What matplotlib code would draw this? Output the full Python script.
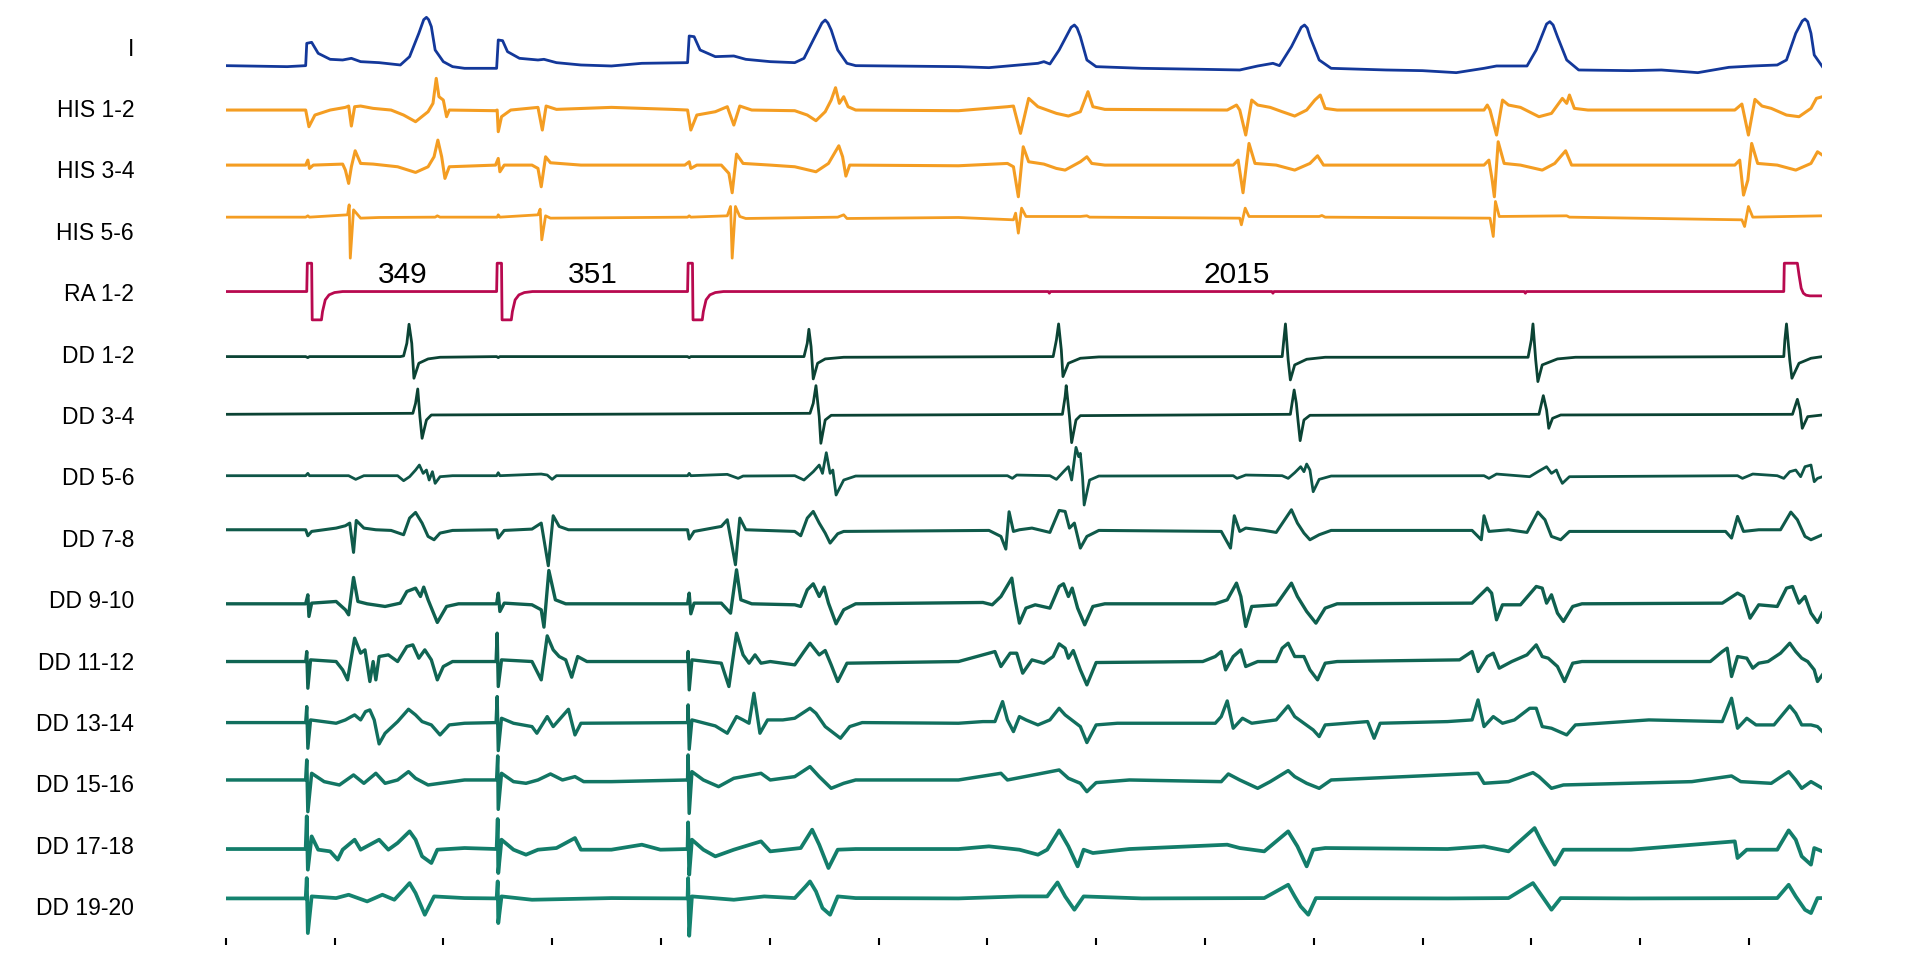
import matplotlib
matplotlib.use("Agg")
import matplotlib.pyplot as plt

plt.rcParams['font.family'] = ['Liberation Sans', 'DejaVu Sans']

# channel names, top to bottom
channels = ["I", "HIS 1-2", "HIS 3-4", "HIS 5-6", "RA 1-2",
            "DD 1-2", "DD 3-4", "DD 5-6", "DD 7-8", "DD 9-10",
            "DD 11-12", "DD 13-14", "DD 15-16", "DD 17-18", "DD 19-20"]

colors = ["#13389a", "#f49d22", "#f49d22", "#f49d22", "#b8094f",
          "#0b4334", "#0b4334", "#0e5547", "#0f5a4a", "#0f604f",
          "#106553", "#116f5e", "#127664", "#137d6a", "#14836f"]

# DC offset of each trace relative to its label row (a.u.)
offsets = [-57, -6, 13, 41, 2, -9, 2, 2, 24, -14, -3, -2, 10, -13, 23]

# RA pacing stimuli (ms)
stim_times = [150, 499, 850, 2865]

# traces: time (ms) / amplitude (a.u.)
t_I = [0, 113, 147, 149, 158, 170, 192, 215, 231, 248, 282, 321, 338, 355, 364, 369, 373, 378, 385, 400, 417, 439,
       498, 501, 509, 518, 540, 574, 585, 608, 653, 709, 765, 849, 852, 861, 872, 900, 934, 956, 1001, 1046,
       1063, 1080, 1096, 1102, 1107, 1113, 1125, 1142, 1158, 1347, 1403, 1493, 1504, 1515, 1532, 1554, 1560, 1565,
       1571, 1583, 1600, 1684, 1796, 1864, 1897, 1925, 1937, 1959, 1977, 1983, 1988, 1993, 2010, 2032, 2133, 2200,
       2262, 2313, 2336, 2392, 2409, 2428, 2434, 2440, 2448, 2465, 2487, 2583, 2639, 2706, 2763, 2807, 2852, 2869,
       2886, 2898, 2903, 2908, 2914, 2920, 2935]
v_I = [0, -3, 0, 67, 70, 37, 19, 17, 22, 12, 9, 2, 27, 97, 138, 145, 138, 117, 47, 12, -3, -8,
       -8, 77, 75, 42, 22, 17, 19, 9, 2, -1, 7, 9, 89, 87, 47, 27, 29, 19, 12, 9,
       22, 77, 128, 137, 128, 107, 47, 7, 0, -3, -6, 7, 12, 5, 47, 115, 122, 113,
       87, 17, -3, -8, -11, -13, -1, 7, 0, 57, 115, 122, 113, 87, 17, -8, -13, -15,
       -21, -8, -1, -1, 47, 125, 132, 122, 87, 17, -13, -15, -13, -21, -5, -1, 2, 17,
       97, 134, 140, 132, 97, 32, -3]

t_his12 = [0, 147, 153, 164, 192, 220, 226, 231, 237, 248, 271, 304, 327, 349, 372, 381, 387, 392, 400, 406,
           411, 496, 499, 501, 507, 524, 574, 582, 589, 608, 709, 821, 849, 855, 866, 900, 922, 934, 945, 967,
           1046, 1069, 1085, 1102, 1113, 1121, 1128, 1136, 1144, 1158, 1347, 1437, 1448, 1461, 1471, 1476, 1493,
           1527, 1549, 1571, 1585, 1594, 1616, 1841, 1858, 1864, 1875, 1886, 1897, 1920, 1942, 1965, 1987, 2002,
           2012, 2021, 2043, 2313, 2319, 2324, 2336, 2347, 2358, 2380, 2414, 2437, 2457, 2465, 2470, 2479, 2504,
           2774, 2787, 2799, 2811, 2824, 2841, 2869, 2892, 2914, 2924, 2935]
v_his12 = [0, 0, -50, -15, 0, 8, 12, -48, 10, 12, 5, 0, -15, -35, -5, 20, 95, 40, 30, -20,
           0, -2, 0, -65, -20, 0, 8, -60, 12, 2, 8, 2, 0, -60, -15, -5, 10, -45, 12, 0,
           -2, -15, -32, -5, 30, 67, 20, 40, 10, 0, -2, 10, 12, -70, 0, 35, 10,
           -10, -18, -5, 55, 10, 2, 0, 15, 0, -75, 30, 15, 8, -5, -18, 0, 30,
           45, 5, 0, 0, 15, 0, -75, 30, 15, 8, -20, -10, 35, 20, 45, 5, 0,
           0, 18, -75, 32, 12, 5, -15, -20, 5, 35, 40]

t_his34 = [0, 147, 151, 154, 161, 215, 220, 226, 231, 238, 248, 271, 316, 349, 372, 383, 390, 397, 403, 411,
           496, 501, 504, 512, 563, 574, 580, 588, 597, 653, 844, 852, 855, 866, 911, 925, 931, 939, 951, 1001,
           1046, 1085, 1108, 1127, 1134, 1140, 1147, 1347, 1437, 1448, 1457, 1466, 1476, 1504, 1527, 1543, 1571,
           1583, 1592, 1616, 1852, 1861, 1870, 1881, 1892, 1931, 1965, 1993, 2007, 2018, 2313, 2322, 2328, 2332,
           2339, 2350, 2380, 2420, 2443, 2463, 2474, 2774, 2783, 2790, 2798, 2805, 2816, 2852, 2886, 2914, 2926, 2935]
v_his34 = [0, 0, 15, -10, 0, 3, -15, -55, -5, 43, 5, 3, -5, -22, -5, 25, 75, 25, -40, -5,
           0, 20, -20, 0, 0, -10, -65, 25, 7, 0, 0, 10, -10, 0, 0, -25, -83, 33, 5, 0,
           -5, -20, 5, 58, 25, -33, 0, -2, 5, -5, -95, 55, 10, 3, -10, -15, 10,
           25, 5, 0, 0, 15, -83, 65, 5, 0, -15, 5, 28, 0, 0, 15, -45, -95,
           70, 5, 0, -15, 5, 43, 0, 0, 15, -90, -45, 65, 5, 0, -15, 5, 40, 30]

t_his56 = [0, 147, 151, 154, 224, 227, 229, 235, 248, 282, 385, 389, 394, 499, 501, 504, 574, 578, 581, 588,
           597, 849, 852, 855, 922, 928, 931, 937, 945, 956, 1125, 1136, 1142, 1347, 1448, 1452, 1457, 1463,
           1471, 1571, 1583, 1588, 1864, 1867, 1874, 1881, 2010, 2015, 2021, 2324, 2330, 2334, 2341, 2465, 2470,
           2787, 2792, 2799, 2807, 2935]
v_his56 = [0, 0, 4, 0, 7, 37, -123, 22, -3, -1, 0, 4, 0, 0, 7, 0, 7, 24, -68, 4,
           -3, 0, 4, 0, 4, 32, -123, 32, 2, -4, 0, 7, -4, -1, -8, 12, -48, 27,
           2, 2, 4, 0, -3, -23, 27, 2, 2, 5, 0, -3, -58, 47, 2, 4, 0,
           -8, -28, 32, 0, 4]

t_ra12 = [0, 149, 150, 158, 159, 176, 178, 183, 190, 200, 215,
          498, 499, 507, 508, 525, 527, 532, 539, 549, 564,
          849, 850, 858, 859, 876, 878, 883, 890, 900, 915,
          1512, 1514, 1516, 1923, 1925, 1927, 2387, 2389, 2391,
          2864, 2865, 2889, 2892, 2896, 2900, 2905, 2912, 2935]
v_ra12 = [0, 0, 85, 85, -85, -85, -60, -25, -10, -3, 0,
          0, 85, 85, -85, -85, -60, -25, -10, -3, 0,
          0, 85, 85, -85, -85, -60, -25, -10, -3, 0,
          0, -5, 0, 0, -5, 0, 0, -5, 0,
          0, 85, 85, 50, 10, -5, -11, -13, -13]

t_dd12 = [0, 147, 151, 154, 321, 327, 333, 337, 342, 346, 355, 372, 394, 498, 501, 504, 849, 852, 855,
          1063, 1069, 1072, 1076, 1080, 1088, 1102, 1136, 1521, 1527, 1531, 1536, 1539, 1549, 1571, 1605,
          1942, 1945, 1948, 1953, 1957, 1965, 1987, 2021, 2394, 2400, 2403, 2408, 2412, 2420, 2448, 2481,
          2864, 2866, 2869, 2875, 2879, 2892, 2914, 2935]
v_dd12 = [0, 0, -3, 0, 0, 2, 40, 97, 40, -65, -20, -7, -2, 0, -3, 0, 0, -3, 0,
          0, 40, 82, 30, -67, -20, -7, -2, 0, 50, 98, 20, -60, -20, -5, -1,
          0, 50, 98, -10, -70, -25, -8, -2, -2, 50, 98, -10, -75, -25, -7, -2,
          0, 50, 98, -10, -65, -20, -5, 0]

t_dd34 = [0, 344, 349, 353, 357, 361, 369, 378, 1074, 1080, 1085, 1091, 1094, 1102, 1113,
          1538, 1543, 1545, 1551, 1555, 1563, 1571, 1957, 1964, 1968, 1971, 1975, 1982, 1993,
          2414, 2422, 2428, 2432, 2439, 2454, 2880, 2889, 2894, 2898, 2908, 2935]
v_dd34 = [0, 3, 33, 76, -7, -72, -17, -2, 3, 33, 86, -7, -87, -17, -3,
          0, 53, 86, -7, -85, -17, -4, 0, 73, 33, -17, -79, -17, -3,
          0, 56, 13, -42, -12, -2, 0, 45, 13, -42, -7, -2]

t_dd56 = [0, 147, 151, 154, 226, 239, 254, 316, 327, 338, 349, 356, 363, 369, 374, 380, 385, 394, 417,
          498, 501, 504, 580, 591, 600, 608, 849, 852, 855, 922, 942, 951, 1046, 1063, 1080, 1091, 1097,
          1104, 1111, 1116, 1122, 1136, 1158, 1437, 1446, 1454, 1515, 1527, 1540, 1549, 1555, 1563, 1568,
          1571, 1575, 1578, 1588, 1605, 1852, 1859, 1875, 1942, 1953, 1965, 1976, 1982, 1987, 1993, 1999,
          2010, 2032, 2313, 2322, 2336, 2397, 2412, 2428, 2437, 2446, 2451, 2457, 2470, 2779, 2788, 2807,
          2852, 2864, 2875, 2886, 2895, 2903, 2914, 2920, 2926, 2935]
v_dd56 = [0, 0, 7, 0, 0, -11, 0, 0, -15, -3, 17, 32, 7, 17, -13, 12, -23, -3, 0,
          0, 9, 0, 5, 2, -11, 0, 0, 7, 0, 4, -8, -1, 0, -13, 12, 32, 7,
          69, 7, 17, -58, -13, -1, 0, -8, 2, 0, -11, 12, 27, -13, 85, 57,
          67, -3, -88, -13, -1, 0, -8, 2, 0, -8, 9, 27, 12, 35, 17, -48,
          -11, -1, 0, -8, 5, -3, 12, 27, 7, 17, -3, -23, -3, 0, -8, 5,
          0, -8, 12, 17, -3, 27, 32, -18, -8, -3]

t_dd78 = [0, 147, 151, 158, 203, 220, 228, 235, 240, 254, 276, 304, 327, 338, 349, 361, 372, 383, 394, 417,
          498, 501, 512, 563, 580, 593, 602, 613, 630, 849, 852, 861, 911, 922, 937, 945, 956, 1046, 1057,
          1069, 1080, 1091, 1102, 1111, 1125, 1136, 1403, 1425, 1434, 1440, 1448, 1459, 1482, 1515, 1532,
          1543, 1551, 1560, 1571, 1583, 1605, 1830, 1847, 1854, 1864, 1875, 1909, 1931, 1959, 1970, 1982,
          1993, 2010, 2032, 2291, 2308, 2313, 2322, 2358, 2392, 2412, 2425, 2437, 2454, 2470, 2757, 2768,
          2779, 2790, 2818, 2858, 2877, 2889, 2903, 2914, 2935]
v_dd78 = [0, 0, -18, -5, 5, 12, 20, -68, 28, 5, 0, -2, -15, 35, 52, 20, -20, -30, -10, -2,
          0, -25, -2, 2, 20, -108, 42, 10, 0, 0, -28, -5, 10, 30, -105, 35, 0, -5, -18,
          35, 55, 20, -10, -40, -12, -5, -2, -20, -58, 54, -5, 0, 5, -8, 58,
          55, 5, 20, -55, -20, -2, -5, -55, 42, -5, 5, -2, -8, 60, 20, -10,
          -30, -15, -2, -2, -30, 42, -5, 0, -8, 53, 30, -20, -30, -5, -5, -25,
          40, -5, 0, 0, 53, 30, -20, -30, -15]

t_dd910 = [0, 147, 151, 153, 158, 203, 220, 226, 235, 243, 260, 293, 321, 333, 349, 358, 364, 372, 389, 406,
           428, 498, 501, 504, 512, 563, 580, 585, 594, 606, 625, 849, 852, 855, 861, 911, 928, 939, 947, 967,
           1046, 1057, 1069, 1080, 1091, 1100, 1108, 1122, 1136, 1158, 1392, 1409, 1425, 1445, 1450, 1459,
           1471, 1488, 1515, 1532, 1540, 1549, 1556, 1566, 1579, 1594, 1616, 1819, 1841, 1858, 1866, 1875,
           1886, 1931, 1959, 1970, 1987, 2004, 2021, 2043, 2291, 2319, 2327, 2336, 2347, 2380, 2409, 2420,
           2428, 2437, 2448, 2459, 2476, 2493, 2751, 2779, 2790, 2802, 2818, 2852, 2869, 2880, 2892, 2903,
           2914, 2926, 2935]
v_dd910 = [0, 0, 27, -38, 2, 7, -18, -33, 79, 7, 0, -8, 2, 37, 47, 22, 50, 12, -56, -8,
           0, 0, 32, -23, 2, -3, -18, -70, 100, 12, 0, 0, 32, -30, 2, 2, -28, 102, 12, 0,
           -3, -8, 42, 60, 22, 50, 2, -60, -18, 0, 4, -3, 22, 77, 22, -58,
           -13, -3, -13, 52, 60, 22, 47, -13, -63, -8, 0, 0, 12, 62, 22, -68,
           -8, -3, 62, 22, -23, -58, -13, 0, 2, 47, 32, -48, -3, -3, 52, 47,
           2, 27, -28, -53, -8, 0, 2, 32, 22, -43, -3, -8, 47, 52, 2, 22,
           -28, -56, -28]

t_dd1112 = [0, 147, 149, 151, 156, 203, 215, 224, 237, 248, 256, 265, 271, 276, 282, 299, 316, 333, 344, 355,
            366, 378, 389, 400, 417, 497, 499, 501, 507, 563, 580, 591, 602, 613, 625, 636, 647, 664, 849, 850,
            852, 857, 911, 925, 939, 951, 962, 973, 984, 1001, 1046, 1063, 1074, 1091, 1102, 1113, 1125, 1142,
            1347, 1403, 1414, 1425, 1442, 1454, 1465, 1482, 1504, 1521, 1532, 1543, 1549, 1558, 1571, 1583,
            1600, 1796, 1819, 1830, 1838, 1852, 1866, 1875, 1897, 1931, 1942, 1953, 1965, 1982, 1993, 2007,
            2021, 2043, 2268, 2291, 2302, 2319, 2330, 2341, 2364, 2392, 2409, 2420, 2431, 2448, 2461, 2476,
            2493, 2729, 2751, 2760, 2768, 2779, 2796, 2807, 2818, 2835, 2858, 2875, 2886, 2897, 2908, 2920,
            2926, 2935]
v_dd1112 = [0, 0, 30, -80, 5, 0, -25, -55, 70, 25, 35, -60, 0, -55, 15, 20, 0, 45, 50, 10,
            35, 5, -55, -15, 0, 0, 85, -75, 5, 0, -55, 77, 35, 15, 5, -47, 15, 0, 0, 30,
            -85, 5, -5, -75, 85, 20, -5, 20, -5, 0, -10, 30, 55, 20, 33, -10, -60, -5,
            0, 25, 30, -15, 25, 25, -35, 5, -5, 15, 53, 40, 10, 33, -25, -70,
            -3, 0, 15, 30, -25, 15, 35, -15, 0, 0, 40, 55, 15, 15, -25, -55,
            -5, 0, 5, 30, -30, 15, 25, -20, 0, 20, 50, 15, 10, -15, -60, -5,
            0, 0, 30, 40, -45, 15, 10, -20, -5, 0, 25, 55, 30, 10, 0, -25,
            -60, -40]

t_dd1314 = [0, 147, 149, 151, 156, 203, 220, 231, 237, 248, 257, 265, 273, 282, 293, 316, 336, 349, 361, 378,
            394, 411, 439, 497, 499, 501, 507, 529, 563, 572, 591, 602, 630, 642, 653, 849, 850, 852, 857, 900,
            922, 939, 951, 962, 971, 982, 996, 1024, 1046, 1074, 1085, 1102, 1130, 1147, 1170, 1347, 1392, 1414,
            1428, 1437, 1448, 1459, 1471, 1493, 1515, 1532, 1543, 1555, 1571, 1583, 1600, 1639, 1819, 1830,
            1841, 1852, 1869, 1886, 1931, 1953, 1965, 1982, 1999, 2010, 2021, 2099, 2111, 2122, 2246, 2291,
            2302, 2313, 2330, 2347, 2369, 2397, 2409, 2420, 2437, 2465, 2481, 2616, 2751, 2768, 2779, 2796,
            2813, 2846, 2875, 2886, 2897, 2914, 2926, 2935]
v_dd1314 = [0, 0, 48, -77, 8, -2, 8, 18, 23, 8, 33, 38, 8, -64, -32, 3, 40, 23, 3, -7,
            -37, -7, -2, 0, 78, -84, 13, -2, -12, -32, 18, -12, 40, -37, -2, 0, 53, -80, 8, -10,
            -32, 18, 8, -2, 88, -32, 8, 8, 13, 43, 28, -12, -47, -12, 0, -2, 3, 3,
            63, 8, -27, 18, 8, -7, 8, 43, 23, 8, -12, -60, -7, -2, -2, 18,
            65, -17, 13, -2, 8, 50, 18, -2, -22, -42, -7, 3, -47, -2, 3, 8,
            68, -12, 18, -2, 8, 43, 43, -12, -17, -37, -7, 8, 3, 73, -17, 13,
            -7, -7, 50, 28, -7, -7, -12, -27]

t_dd1516 = [0, 147, 149, 151, 158, 181, 209, 235, 254, 276, 293, 316, 336, 349, 372, 394, 439, 498, 500, 501,
            507, 529, 552, 574, 597, 619, 642, 658, 709, 849, 850, 852, 857, 878, 906, 934, 984, 1001, 1046,
            1074, 1091, 1113, 1136, 1158, 1347, 1425, 1437, 1532, 1549, 1571, 1583, 1600, 1661, 1830, 1843,
            1864, 1897, 1920, 1953, 1965, 1987, 2010, 2032, 2302, 2313, 2358, 2403, 2414, 2437, 2459, 2695,
            2768, 2785, 2841, 2873, 2886, 2897, 2914, 2935]
v_dd1516 = [0, 0, 60, -95, 20, -5, -15, 15, -10, 20, -10, 0, 25, 5, -15, -10, 0, 0, 72, -88,
            20, -5, -10, 0, 18, 0, 10, -5, -5, 0, 75, -100, 25, 0, -20, 5, 20, 0, 10,
            40, 10, -25, -10, 0, 0, 20, 0, 30, 5, -10, -35, -8, 0, -5, 18,
            0, -25, -5, 28, 10, -10, -25, 0, 20, -10, -5, 22, 10, -25, -15, -5,
            12, -5, -10, 25, 0, -25, -5, -25]

t_dd1718 = [0, 147, 149, 151, 158, 170, 192, 206, 215, 237, 248, 282, 299, 316, 338, 349, 361, 378, 389, 439,
            498, 500, 501, 507, 529, 552, 574, 608, 642, 653, 709, 765, 799, 849, 850, 852, 857, 878, 900, 934,
            984, 1001, 1057, 1078, 1091, 1108, 1125, 1158, 1347, 1403, 1459, 1493, 1510, 1532, 1549, 1566,
            1577, 1594, 1661, 1841, 1864, 1909, 1953, 1970, 1987, 1999, 2021, 2246, 2313, 2358, 2406, 2420,
            2443, 2459, 2583, 2774, 2779, 2796, 2852, 2873, 2886, 2897, 2914, 2920, 2935]
v_dd1718 = [0, 0, 98, -62, 38, -2, -7, -32, -2, 28, -2, 28, -2, 18, 53, 28, -22, -42, -2, 3,
            0, 90, -72, 28, -2, -17, -2, 3, 33, -2, -2, 13, -2, 0, 80, -77, 28, -2, -22, -2,
            23, -7, 3, 58, 13, -57, -2, 0, 0, 8, -2, -17, -2, 56, 8, -52,
            -2, -12, 0, 13, 3, -7, 53, 8, -52, -2, 3, 0, 8, -7, 63, 18,
            -47, -2, -2, 23, -27, -2, -2, 56, 28, -22, -47, 3, -7]

t_dd1920 = [0, 147, 149, 151, 158, 203, 226, 260, 288, 310, 327, 338, 349, 366, 383, 439, 498, 500, 501, 507,
            563, 709, 849, 850, 852, 857, 934, 990, 1046, 1066, 1074, 1085, 1097, 1111, 1125, 1158, 1347, 1459,
            1510, 1529, 1543, 1560, 1577, 1684, 1909, 1953, 1965, 1976, 1990, 2004, 2246, 2358, 2403, 2420,
            2437, 2454, 2583, 2852, 2873, 2886, 2903, 2914, 2926, 2935]
v_dd1920 = [0, 0, 61, -104, 6, 1, 11, -9, 11, -4, 26, 46, 16, -49, 6, 1, 0, 51, -74, 6,
            -4, 1, 0, 61, -112, 6, -4, 6, 1, 36, 51, 21, -29, -49, 6, 1, 0, 6,
            6, 48, 6, -34, 6, 0, 1, 41, 6, -24, -49, 1, 0, 1, 46, 6,
            -34, 1, 0, 1, 41, 6, -34, -44, 1, 1]

traces = [(t_I, v_I), (t_his12, v_his12), (t_his34, v_his34), (t_his56, v_his56), (t_ra12, v_ra12),
          (t_dd12, v_dd12), (t_dd34, v_dd34), (t_dd56, v_dd56), (t_dd78, v_dd78), (t_dd910, v_dd910),
          (t_dd1112, v_dd1112), (t_dd1314, v_dd1314), (t_dd1516, v_dd1516), (t_dd1718, v_dd1718),
          (t_dd1920, v_dd1920)]

# noisier channels are drawn a little heavier
widths = [2.0, 2.2, 2.2, 2.0, 2.0, 2.0, 2.0, 2.0, 2.2, 2.4, 2.4, 2.4, 2.5, 2.7, 2.7]

gain = 1 / 184.2   # a.u. -> row spacing

fig = plt.figure(figsize=(19.2, 9.6), dpi=100)
ax = fig.add_axes([225.7 / 1920, 22 / 960, 1596.7 / 1920, 938 / 960])

for k, (t, v) in enumerate(traces):
    y = [-k + (offsets[k] + a) * gain for a in v]
    ax.plot(t, y, color=colors[k], lw=widths[k], solid_joinstyle='round')

# stimulus intervals written between pacing spikes
for a, b in zip(stim_times[:-1], stim_times[1:]):
    ax.text((a + b) / 2, -4 + 0.06, str(b - a), ha='center', va='bottom',
            fontsize=21.5, color='black')

ax.set_xlim(0, 2935)
ax.set_ylim(-14.52, 0.76)
ax.set_xticks(range(0, 2801, 200))
ax.set_xticklabels([])
ax.tick_params(axis='x', direction='out', length=5, width=1.5, color='black')
ax.set_yticks([-k for k in range(len(channels))])
ax.set_yticklabels(channels, fontsize=16.5)
ax.tick_params(axis='y', length=0, pad=66)
for s in ax.spines.values():
    s.set_visible(False)

fig.savefig("out.png", dpi=100)
